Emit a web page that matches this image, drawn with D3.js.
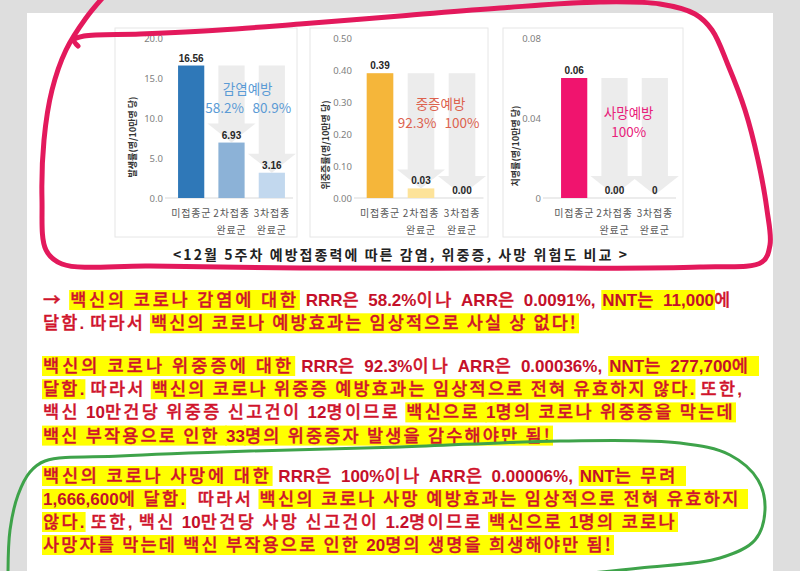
<!DOCTYPE html>
<html>
<head>
<meta charset="utf-8">
<script src="https://cdn.jsdelivr.net/npm/d3@7"></script>
<style>
html, body { margin: 0; padding: 0; background: #dedede; }
svg { display: block; }
.k { font-family: "Noto Sans CJK KR", sans-serif; font-weight: 500; fill: #d0142c; stroke: #d0142c; stroke-width: 0.35px; font-size: 17.5px; }
.b { font-family: "Liberation Sans", Arial, sans-serif; font-weight: bold; fill: #c4102a; font-size: 17px; }
</style>
</head>
<body>
<script>
// ---- chart data ----
const groups = ["미접종군", "2차접종|완료군", "3차접종|완료군"];
const infectionRate = [16.56, 6.93, 3.16];
const infectionLabel = ["16.56", "6.93", "3.16"];
const severeRate = [0.39, 0.03, 0.00];
const severeLabel = ["0.39", "0.03", "0.00"];
const deathRate = [0.06, 0.00, 0];
const deathLabel = ["0.06", "0.00", "0"];
const infectionTicks = [0, 5, 10, 15, 20];
const severeTicks = [0, 0.1, 0.2, 0.3, 0.4, 0.5];
const deathTicks = [0, 0.04, 0.08];
const yTitles = ["발생률(명/10만명 당)", "위중증률(명/10만명 당)", "치명률(명/10만명 당)"];
const effectTitles = ["감염예방", "중증예방", "사망예방"];
const infectionEffect = ["58.2%", "80.9%"];
const severeEffect = ["92.3%", "100%"];
const deathEffect = ["100%"];
const caption = "<12월 5주차 예방접종력에 따른 감염, 위중증, 사망 위험도 비교 >";

// [ ] = yellow highlight
const para1 = [
  "→ [백신의 코로나 감염에 대한] RRR은 58.2%이나 ARR은 0.0091%, [NNT는 11,000]에",
  "달함. 따라서 [백신의 코로나 예방효과는 임상적으로 사실 상 없다!]"
];
const para2 = [
  "[백신의 코로나 위중증에 대한] RRR은 92.3%이나 ARR은 0.00036%, [NNT는 277,700에 ]",
  "[달함.] 따라서 [백신의 코로나 위중증 예방효과는 임상적으로 전혀 유효하지 않다.] 또한,",
  "백신 10만건당 위중증 신고건이 12명이므로 [백신으로 1명의 코로나 위중증을 막는데]",
  "[백신 부작용으로 인한 33명의 위중증자 발생을 감수해야만 됨!]"
];
const para3 = [
  "[백신의 코로나 사망에 대한] RRR은 100%이나 ARR은 0.00006%, [NNT는 무려 ]",
  "[1,666,600에 달함.]  따라서 [백신의 코로나 사망 예방효과는 임상적으로 전혀 유효하지 ]",
  "[않다.] 또한, 백신 10만건당 사망 신고건이 1.2명이므로 [백신으로 1명의 코로나]",
  "[사망자를 막는데 백신 부작용으로 인한 20명의 생명을 희생해야만 됨!]"
];

// hand drawn circles (pen marks on the screenshot)
const redLoop = [[78,46],[74,40],[84,36],[140,34],[220,30],[300,24],[400,16],[500,8],[600,2],[660,4],[695,14],[712,30],
  [728,65],[745,110],[758,160],[767,210],[770,245],[762,262],[700,267],[500,268],[300,268],[150,266],[62,264],
  [46,250],[42,200],[44,140],[52,90],[66,50],[86,18],[106,-6]];
const greenLoop = [[8,575],[10,530],[18,495],[30,472],[45,461],[120,456],[250,451],[400,447],[560,441],[680,443],
  [730,455],[758,480],[765,510],[755,540],[720,558],[640,568],[560,576]];

var svg = d3.select("body").append("svg")
  .attr("width", 800)
  .attr("height", 571);

svg.append("rect").attr("x", 27).attr("y", 13).attr("width", 746).attr("height", 560).attr("fill", "#fff");

var fmt1 = d3.format(".1f"), fmt2 = d3.format(".2f");
var panels = [
  { rates: infectionRate, labels: infectionLabel, ticks: infectionTicks, fmt: fmt1, max: 20,
    title: yTitles[0], effect: effectTitles[0], pct: infectionEffect,
    colors: ["#2f78b8", "#8cb2d7", "#c2d8ee"], effColor: "#5b9bd5",
    box: [115, 28, 182, 209], xr: [171, 292], tickX: 163, titleX: 132, titleY: 137,
    effY: [88, 107], effDx: [-4, -7, 0] },
  { rates: severeRate, labels: severeLabel, ticks: severeTicks, fmt: fmt2, max: 0.5,
    title: yTitles[1], effect: effectTitles[1], pct: severeEffect,
    colors: ["#f5b63a", "#fde39a", "#fdf0c8"], effColor: "#dd624e",
    box: [310, 28, 178, 209], xr: [359.5, 482.5], tickX: 352, titleX: 325, titleY: 145,
    effY: [103, 122], effDx: [-1, -4, 0] },
  { rates: deathRate, labels: deathLabel, ticks: deathTicks, fmt: d => d === 0 ? "0" : fmt2(d), max: 0.08,
    title: yTitles[2], effect: effectTitles[2], pct: deathEffect,
    colors: ["#f0146e", "#f77aab", "#fbc0d8"], effColor: "#e8207a",
    box: [503, 28, 180, 209], xr: [554, 675], tickX: 541, titleX: 515, titleY: 146,
    effY: [112, 131], effDx: [-6, -6, 0] }
];

panels.forEach(function (p) {
  var g = svg.append("g");
  var base = 198, top = 38;
  var x = d3.scaleBand().domain(groups).range(p.xr).paddingInner(0.35).paddingOuter(0.175);
  var y = d3.scaleLinear().domain([0, p.max]).range([base, top]);
  var bw = x.bandwidth();

  g.append("rect")
    .attr("x", p.box[0]).attr("y", p.box[1]).attr("width", p.box[2]).attr("height", p.box[3])
    .attr("fill", "#fff").attr("stroke", "#e6e6e6");

  // y ticks
  var ax = g.append("g").attr("transform", "translate(" + p.tickX + ",0)")
    .call(d3.axisLeft(y).tickValues(p.ticks).tickFormat(p.fmt).tickSize(0).tickPadding(0));
  ax.select(".domain").remove();
  ax.selectAll("text").attr("font-family", "Noto Sans, sans-serif").attr("font-size", 9.5).attr("fill", "#808080");

  g.append("line").attr("x1", p.tickX + 2).attr("x2", p.xr[1] + 1).attr("y1", base).attr("y2", base)
    .attr("stroke", "#d9d9d9");

  // y title
  g.append("text")
    .attr("transform", "translate(" + p.titleX + "," + p.titleY + ") rotate(-90)")
    .attr("text-anchor", "middle").attr("dominant-baseline", "central")
    .attr("font-family", "Noto Sans CJK KR").attr("font-weight", "bold").attr("font-size", 9)
    .attr("fill", "#333").text(p.title);

  // gray arrows behind the vaccinated groups
  var y0 = y(p.rates[0]);
  for (var i = 1; i < 3; i++) {
    var c = x(groups[i]) + bw / 2;
    var tip = Math.min(y(p.rates[i]), base - 3);
    var hb = tip - 19;
    g.append("path")
      .attr("d", "M" + (c - bw / 2) + "," + y0 + "H" + (c + bw / 2) + "V" + hb + "H" + (c + 24) +
        "L" + c + "," + tip + "L" + (c - 24) + "," + hb + "H" + (c - bw / 2) + "Z")
      .attr("fill", "#ececec");
  }

  // bars
  g.selectAll(".bar").data(p.rates).enter().append("rect")
    .attr("x", (d, i) => x(groups[i]))
    .attr("y", d => y(d))
    .attr("width", bw)
    .attr("height", d => base - y(d))
    .attr("fill", (d, i) => p.colors[i]);

  // value labels
  g.selectAll(".val").data(p.rates).enter().append("text")
    .attr("x", (d, i) => x(groups[i]) + bw / 2)
    .attr("y", d => y(d) - 4)
    .attr("text-anchor", "middle")
    .attr("font-family", "Liberation Sans, Arial").attr("font-weight", "bold").attr("font-size", 10)
    .attr("fill", "#262626")
    .text((d, i) => p.labels[i]);

  // category labels
  groups.forEach(function (name, i) {
    var t = g.append("text").attr("text-anchor", "middle")
      .attr("font-family", "Noto Sans CJK KR").attr("font-size", 10).attr("fill", "#595959")
      .attr("letter-spacing", 0.8);
    name.split("|").forEach(function (s, j) {
      t.append("tspan").attr("x", x(name) + bw / 2).attr("y", 217 + j * 17).text(s);
    });
  });

  // prevention effect text
  var c2 = x(groups[1]) + bw / 2, c3 = x(groups[2]) + bw / 2;
  var ef = g.append("g").attr("font-family", "Noto Sans CJK KR").attr("font-size", 13.5)
    .attr("fill", p.effColor).attr("text-anchor", "middle").attr("dominant-baseline", "central");
  ef.append("text").attr("x", (c2 + c3) / 2 + p.effDx[0]).attr("y", p.effY[0]).text(p.effect);
  if (p.pct.length === 2) {
    ef.append("text").attr("x", c2 + p.effDx[1]).attr("y", p.effY[1]).text(p.pct[0]);
    ef.append("text").attr("x", c3 + p.effDx[2]).attr("y", p.effY[1]).text(p.pct[1]);
  } else {
    ef.append("text").attr("x", (c2 + c3) / 2 + p.effDx[1]).attr("y", p.effY[1]).text(p.pct[0]);
  }
});

svg.append("text")
  .attr("x", 173).attr("y", 260)
  .attr("textLength", 454).attr("lengthAdjust", "spacing")
  .attr("font-family", "Noto Sans CJK KR").attr("font-weight", "bold").attr("font-size", 14)
  .attr("fill", "#222").text(caption);

// ---- paragraphs ----
var hlG = svg.append("g");
var txG = svg.append("g");

function parseLine(str) {
  var segs = [], hl = false, buf = "";
  for (const ch of str) {
    if (ch === "[" || ch === "]") {
      if (buf) segs.push({ t: buf, hl: hl });
      buf = ""; hl = ch === "[";
    } else buf += ch;
  }
  if (buf) segs.push({ t: buf, hl: hl });
  var runs = [];
  segs.forEach(function (s) {
    s.t.split(/([A-Za-z0-9%.,]+)/).forEach(function (part, i) {
      if (part) runs.push({ t: part, hl: s.hl, bold: i % 2 === 1 });
    });
  });
  return runs;
}

function drawLine(str, x0, y, right) {
  var runs = parseLine(str);
  var nodes = runs.map(r => txG.append("text").attr("y", y).attr("class", r.bold ? "b" : "k")
    .style("white-space", "pre").text(r.t));
  var widths = nodes.map(n => n.node().getComputedTextLength());
  // only the Korean runs get extra spacing, the bold latin stays tight
  var nch = d3.sum(runs, r => r.bold ? 0 : [...r.t].length);
  var ls = (right - x0 - d3.sum(widths)) / nch;
  var x = x0;
  runs.forEach(function (r, i) {
    var w = widths[i] + (r.bold ? 0 : [...r.t].length * ls);
    if (r.hl) hlG.append("rect").attr("x", x - 1).attr("y", y - 16).attr("width", w + 2).attr("height", 20)
      .attr("fill", "#ffff00");
    nodes[i].attr("x", x);
    if (!r.bold) nodes[i].attr("letter-spacing", ls);
    x += w;
  });
}

var p1Right = [733, 578], p2Right = [758, 742, 735, 552], p3Right = [685, 747, 677, 613];
para1.forEach((s, i) => drawLine(s, 43, 306 + i * 23.3, p1Right[i]));
para2.forEach((s, i) => drawLine(s, 43, 372 + i * 23.2, p2Right[i]));
para3.forEach((s, i) => drawLine(s, 43, 482 + i * 23, p3Right[i]));

// pen marks
var pen = d3.line().curve(d3.curveCatmullRom);
svg.append("path").attr("d", pen(redLoop)).attr("fill", "none")
  .attr("stroke", "#e3195c").attr("stroke-width", 5).attr("stroke-linecap", "round");
svg.append("path").attr("d", pen(greenLoop)).attr("fill", "none")
  .attr("stroke", "#3ea34a").attr("stroke-width", 3).attr("stroke-linecap", "round");
</script>
</body>
</html>
